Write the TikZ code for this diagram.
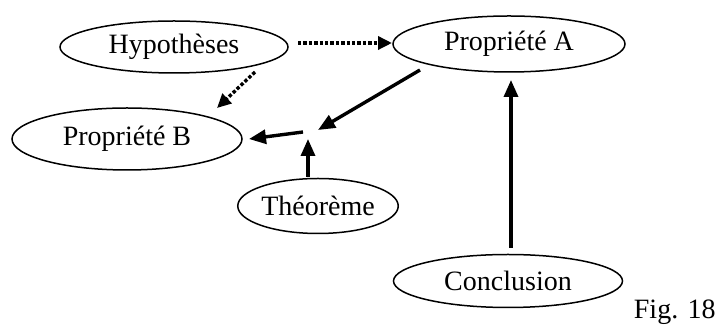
\documentclass[tikz,border=0pt]{standalone}
\usepackage{fontspec}
\setmainfont{Liberation Serif}
\usetikzlibrary{shapes.geometric,arrows.meta,calc}
\tikzset{
  ell/.style={draw,ellipse,line width=0.75pt,inner sep=0pt,font=\fontsize{14}{16}\selectfont},
  arr/.style={line width=1.7pt,-{Triangle[length=8.5pt,width=7pt]}},
  dotarr/.style={line width=1.7pt,dash pattern=on 1.7pt off 1pt,-{Triangle[length=7pt,width=6.5pt]}},
  lbl/.style={font=\fontsize{14}{16}\selectfont,inner sep=0pt}
}
\begin{document}
\begin{tikzpicture}[x=0.5pt,y=-0.5pt]
\useasboundingbox (0,0) rectangle (719,325);
\node[ell,minimum width=114pt,minimum height=26pt] (H) at (174,47) {Hypothèses};
\node[ell,minimum width=116pt,minimum height=28pt] (pA) at (509,44) {Propriété A};
\node[ell,minimum width=115pt,minimum height=31pt] (pB) at (127,139) {Propriété B};
\node[ell,minimum width=77.5pt,minimum height=27.5pt] (T) at (318,206) {Théorème};
\node[ell,minimum width=114.5pt,minimum height=26.5pt] (C) at (508,281) {Conclusion};
\node[lbl,anchor=base east] (fig) at (716,319) {Fig. 18};
\coordinate (jA) at (318,130);
\coordinate (jB) at (303,132);
\coordinate (jT) at (308,139);
\draw[dotarr] ($(H)+(124,-4)$) -- ($(pA)+(-117,-1)$);
\draw[dotarr] ($(H)+(81,25)$) -- ($(pB)+(90,-31)$);
\draw[arr] ($(pA)+(-89,26)$) -- (jA);
\draw[arr] (jB) -- ($(pB)+(122,0)$);
\draw[arr] ($(T)+(-10,-29)$) -- (jT);
\draw[arr] ($(C)+(3,-33)$) -- ($(pA)+(2,36)$);
\end{tikzpicture}
\end{document}
